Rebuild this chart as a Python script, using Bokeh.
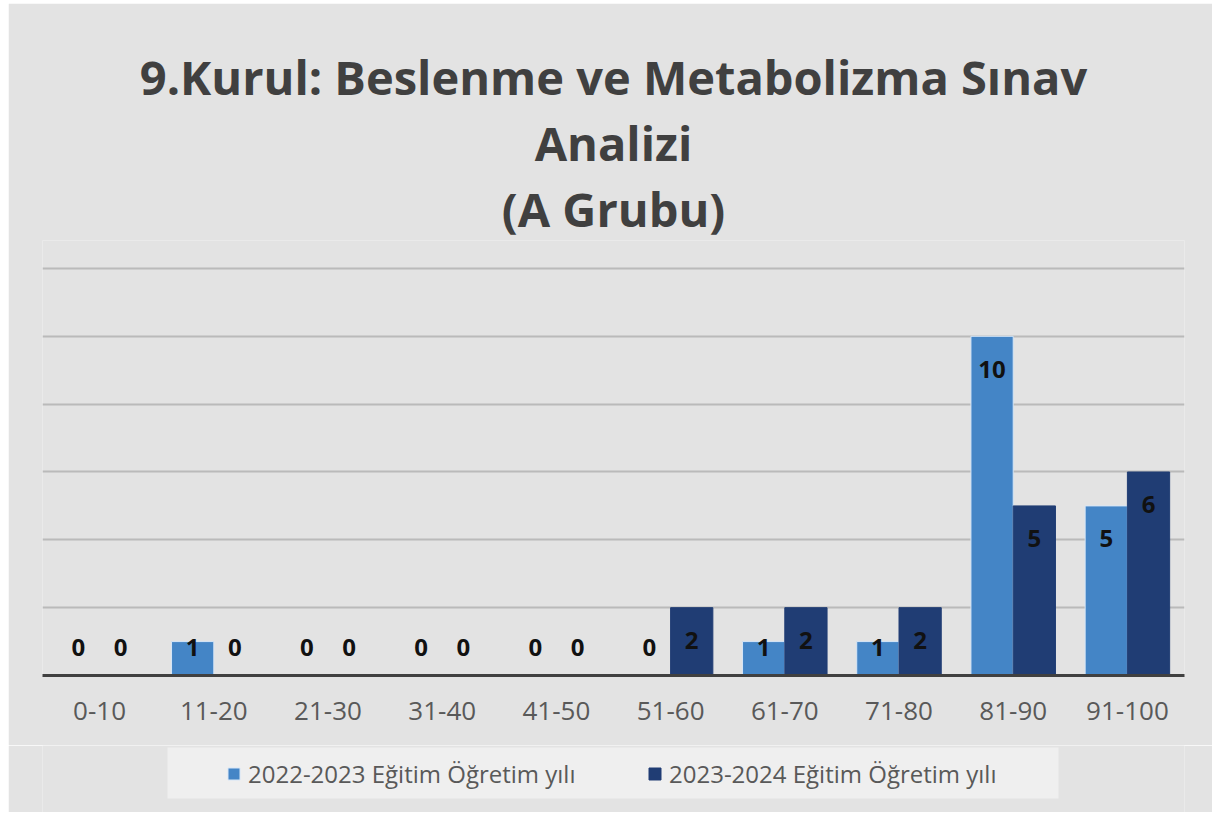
from bokeh.plotting import figure
from bokeh.layouts import column
from bokeh.models import (ColumnDataSource, FactorRange, Range1d, FixedTicker,
                          Legend, LegendItem, Title, BoxAnnotation)
from bokeh.transform import dodge
from bokeh.core.properties import value
from bokeh.embed import file_html
from bokeh.resources import INLINE

# ---- data ----
categories = ["0-10", "11-20", "21-30", "31-40", "41-50",
              "51-60", "61-70", "71-80", "81-90", "91-100"]
series_2022 = [0, 1, 0, 0, 0, 0, 1, 1, 10, 5]
series_2023 = [0, 0, 0, 0, 0, 2, 2, 2, 5, 6]
series_names = ["2022-2023 Eğitim Öğretim yılı", "2023-2024 Eğitim Öğretim yılı"]
y_ticks = [0, 2, 4, 6, 8, 10, 12]
title_lines = ["9.Kurul: Beslenme ve Metabolizma Sınav", "Analizi", "(A Grubu)"]

LIGHT = "#4485c6"
DARK = "#203d74"
BG = "#e3e3e3"
FONT = "Open Sans"

def label_pos(vals):
    # data label sits inside the bar end, but never below a minimum height
    return [max(v - 0.97, 0.84) for v in vals]

src = ColumnDataSource(dict(
    cat=categories,
    v1=series_2022, v2=series_2023,
    t1=[str(v) for v in series_2022], t2=[str(v) for v in series_2023],
    y1=label_pos(series_2022), y2=label_pos(series_2023),
))

xr = FactorRange(*categories)

# ---------------- main chart ----------------
p = figure(width=1204, height=742, x_range=xr,
           y_range=Range1d(0, y_ticks[-1] + 0.825), y_axis_location=None,
           output_backend="svg", toolbar_location=None, title=None,
           min_border_left=34, min_border_right=28,
           min_border_top=237, min_border_bottom=70)

p.background_fill_color = BG
p.border_fill_color = BG
p.outline_line_color = None

p.xgrid.grid_line_color = None
p.ygrid.ticker = FixedTicker(ticks=y_ticks)
p.ygrid.grid_line_color = "#bababa"
p.ygrid.grid_line_width = 2

xa = p.xaxis[0]
xa.axis_line_color = "#404040"
xa.axis_line_width = 3
xa.major_tick_line_color = None
xa.minor_tick_line_color = None
xa.major_label_text_font = FONT
xa.major_label_text_font_size = "26px"
xa.major_label_text_color = "#595959"
xa.major_label_standoff = 20

r1 = p.vbar(x=dodge("cat", -0.185, range=xr), top="v1", width=0.37,
            source=src, fill_color=LIGHT, line_color="#d6e6f7", line_width=1)
r2 = p.vbar(x=dodge("cat", 0.185, range=xr), top="v2", width=0.37,
            source=src, fill_color=DARK, line_color=DARK, line_width=1)

for xoff, ycol, tcol in [(-0.185, "y1", "t1"), (0.185, "y2", "t2")]:
    p.text(x=dodge("cat", xoff, range=xr), y=ycol, text=tcol, source=src,
           text_font=value(FONT), text_font_style="bold", text_font_size="24px",
           text_color="#111111", text_align="center", text_baseline="middle")

# title lines: innermost first (closest to the plot), outermost last
for line in reversed(title_lines):
    p.add_layout(Title(text=line, align="center",
                       text_font=FONT, text_font_size="47px", text_font_style="bold",
                       text_color="#404040", text_line_height=1.0,
                       standoff=0),
                 "above")

# ---------------- legend strip ----------------
lg = figure(width=1204, height=67, x_range=xr, y_range=Range1d(-2, -1),
            x_axis_location=None, y_axis_location=None,
            output_backend="svg", toolbar_location=None, title=None,
            min_border_left=34, min_border_right=28,
            min_border_top=0, min_border_bottom=0)
lg.background_fill_color = BG
lg.border_fill_color = BG
lg.outline_line_color = None
lg.grid.visible = False

lg.add_layout(BoxAnnotation(left=125, right=1016, bottom=14, top=65,
                            left_units="screen", right_units="screen",
                            bottom_units="screen", top_units="screen",
                            fill_color="#efefef", fill_alpha=1, line_color=None))

# legend keys (same series, hidden in this strip; only their swatches are shown)
k1 = lg.vbar(x=dodge("cat", -0.185, range=xr), top="v1", width=0.37, source=src,
             fill_color=LIGHT, line_color="#d6e6f7", visible=False)
k2 = lg.vbar(x=dodge("cat", 0.185, range=xr), top="v2", width=0.37, source=src,
             fill_color=DARK, line_color=DARK, visible=False)

legend = Legend(items=[LegendItem(label=series_names[0], renderers=[k1]),
                       LegendItem(label=series_names[1], renderers=[k2])],
                orientation="horizontal", location=(184, 22),
                glyph_width=15, glyph_height=15, label_standoff=7,
                label_width=334, spacing=65, padding=10,
                label_text_font=FONT, label_text_font_size="24px",
                label_text_color="#595959",
                inactive_fill_alpha=0,
                background_fill_alpha=0, border_line_color=None)
lg.add_layout(legend, "center")

layout = column(p, lg, spacing=0, margin=(3, 0, 0, 8))
open("out.html", "w").write(file_html(layout, INLINE))
